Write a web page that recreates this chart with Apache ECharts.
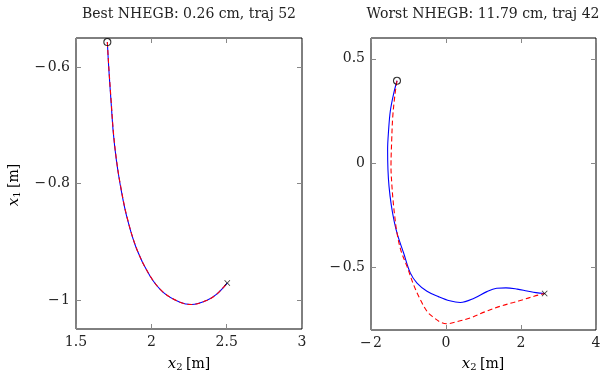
<!DOCTYPE html>
<html>
<head>
<meta charset="utf-8">
<script src="https://cdn.jsdelivr.net/npm/echarts@6/dist/echarts.min.js"></script>
<style>html,body{margin:0;padding:0;background:#fff}#c{width:609px;height:378px}</style>
</head>
<body>
<div id="c"></div>
<script>
// ---- Data ----
var titles = ['Best NHEGB: 0.26 cm, traj 52', 'Worst NHEGB: 11.79 cm, traj 42'];
// Left (best) trajectory: [x2, x1]
var bestRef = [[1.708,-0.557],[1.717,-0.600],[1.732,-0.657],[1.748,-0.714],[1.768,-0.760],[1.792,-0.800],[1.836,-0.856],[1.903,-0.913],[1.991,-0.959],[2.079,-0.987],[2.190,-1.004],[2.268,-1.008],[2.367,-1.001],[2.434,-0.990],[2.504,-0.971]];
var bestEst = [[1.708,-0.557],[1.718,-0.601],[1.733,-0.657],[1.749,-0.714],[1.769,-0.760],[1.793,-0.800],[1.837,-0.856],[1.904,-0.913],[1.992,-0.959],[2.080,-0.987],[2.190,-1.004],[2.268,-1.008],[2.367,-1.001],[2.434,-0.990],[2.504,-0.971]];
// Right (worst) trajectory
var worstRef = [[-1.307,0.395],[-1.400,0.330],[-1.485,0.250],[-1.530,0.160],[-1.557,0.064],[-1.548,-0.030],[-1.520,-0.110],[-1.460,-0.200],[-1.380,-0.280],[-1.290,-0.345],[-1.130,-0.431],[-0.952,-0.526],[-0.773,-0.575],[-0.507,-0.614],[-0.200,-0.640],[0.100,-0.660],[0.381,-0.668],[0.750,-0.648],[1.090,-0.616],[1.350,-0.600],[1.600,-0.598],[1.900,-0.604],[2.160,-0.613],[2.400,-0.621],[2.630,-0.625]];
var worstEst = [[-1.307,0.395],[-1.360,0.330],[-1.420,0.223],[-1.450,0.100],[-1.467,-0.016],[-1.445,-0.100],[-1.413,-0.176],[-1.370,-0.250],[-1.307,-0.335],[-1.200,-0.420],[-1.040,-0.495],[-0.860,-0.585],[-0.685,-0.654],[-0.500,-0.712],[-0.330,-0.740],[-0.150,-0.762],[0.008,-0.770],[0.300,-0.760],[0.648,-0.742],[1.050,-0.712],[1.448,-0.686],[1.800,-0.668],[2.070,-0.654],[2.350,-0.638],[2.630,-0.625]];
var bestStart = [1.708,-0.557], bestEnd = [2.504,-0.971];
var worstStart = [-1.307,0.395], worstEnd = [2.630,-0.625];
var xTicksL = [1.5, 2, 2.5, 3], yTicksL = [-1, -0.8, -0.6];
var xTicksR = [-2, 0, 2, 4], yTicksR = [-0.5, 0, 0.5];
var yRangeL = [-1.05, -0.55], yRangeR = [-0.8, 0.6];

var FONT = 'DejaVu Serif';
var FS = 14;
function fmt(v){ var s = String(Math.round(v*100)/100); return s.replace('-', '\u2212\u200A'); }
var grids = [
  {left:76, top:38, width:226, height:291, show:true, borderColor:'#000', borderWidth:1, backgroundColor:'transparent'},
  {left:371, top:38, width:225, height:292, show:true, borderColor:'#000', borderWidth:1, backgroundColor:'transparent'}
];
function baseAx(gi, pos, showLabel){
  return {type:'value', gridIndex:gi, position:pos,
    axisLine:{show:false, onZero:false}, splitLine:{show:false},
    axisTick:{show:true, inside:true, length:5, lineStyle:{color:'#888', width:1}},
    axisLabel:{show:showLabel, formatter:fmt, fontFamily:FONT, fontSize:FS, color:'#222', margin:6,
      showMinLabel:true, showMaxLabel:true}};
}
function xAx(gi, ticks, interval, pos, showLabel){
  var a = baseAx(gi, pos, showLabel);
  a.min = ticks[0]; a.max = ticks[ticks.length-1]; a.interval = interval;
  return a;
}
function yAx(gi, range, ticks, pos, showLabel){
  var a = baseAx(gi, pos, showLabel);
  a.min = range[0]; a.max = range[1];
  a.axisTick.customValues = ticks;
  a.axisLabel.customValues = ticks;
  return a;
}
var xAxes = [
  xAx(0, xTicksL, 0.5, 'bottom', true),
  xAx(0, xTicksL, 0.5, 'top', false),
  xAx(1, xTicksR, 2, 'bottom', true),
  xAx(1, xTicksR, 2, 'top', false)
];
var yAxes = [
  yAx(0, yRangeL, yTicksL, 'left', true),
  yAx(0, yRangeL, yTicksL, 'right', false),
  yAx(1, yRangeR, yTicksR, 'left', true),
  yAx(1, yRangeR, yTicksR, 'right', false)
];

var crossPath = 'path://M0,1L1,0L5,4L9,0L10,1L6,5L10,9L9,10L5,6L1,10L0,9L4,5Z';
function lineSeries(data, xi, yi, color, dashed){
  return {type:'line', xAxisIndex:xi, yAxisIndex:yi, data:data, smooth:0.35, showSymbol:false, symbol:'none',
    lineStyle:{color:color, width:1.1, type: dashed ? [5,3] : 'solid'}, animation:false, silent:true};
}
function markers(start, end, xi, yi){
  return [
    {type:'scatter', xAxisIndex:xi, yAxisIndex:yi, data:[start], symbol:'circle', symbolSize:7,
      itemStyle:{color:'rgba(255,255,255,0)', borderColor:'#000', borderWidth:1.1}, animation:false, silent:true, z:5},
    {type:'scatter', xAxisIndex:xi, yAxisIndex:yi, data:[end], symbol:crossPath, symbolSize:6,
      itemStyle:{color:'#000'}, animation:false, silent:true, z:5}
  ];
}
var series = [
  lineSeries(bestRef, 0, 0, '#0000ff', false),
  lineSeries(bestEst, 0, 0, '#ff0000', true),
  lineSeries(worstRef, 2, 2, '#0000ff', false),
  lineSeries(worstEst, 2, 2, '#ff0000', true)
].concat(markers(bestStart, bestEnd, 0, 0)).concat(markers(worstStart, worstEnd, 2, 2));

var rich = { i:{fontFamily:FONT, fontStyle:'italic', fontSize:15, color:'#222'},
             s:{fontFamily:FONT, fontSize:10, color:'#222', verticalAlign:'bottom', padding:[6,0,0,0]},
             n:{fontFamily:FONT, fontSize:FS, color:'#222'} };
var chart = echarts.init(document.getElementById('c'), null, {renderer:'canvas'});
chart.setOption({
  backgroundColor:'#fff',
  animation:false,
  grid:grids,
  xAxis:xAxes,
  yAxis:yAxes,
  series:series,
  graphic:[
    {type:'text', style:{text:titles[0], font:FS+'px "'+FONT+'"', fill:'#222', textAlign:'center', textVerticalAlign:'middle', x:189, y:14}},
    {type:'text', style:{text:titles[1], font:FS+'px "'+FONT+'"', fill:'#222', textAlign:'center', textVerticalAlign:'middle', x:483, y:14}},
    {type:'text', style:{text:'{i|x}{s|2} {n|[m]}', rich:rich, textAlign:'center', textVerticalAlign:'middle', x:189, y:364}},
    {type:'text', style:{text:'{i|x}{s|2} {n|[m]}', rich:rich, textAlign:'center', textVerticalAlign:'middle', x:483, y:364}},
    {type:'text', x:14, y:185, rotation:Math.PI/2, style:{text:'{i|x}{s|1} {n|[m]}', rich:rich, textAlign:'center', textVerticalAlign:'middle'}}
  ]
});
</script>
</body>
</html>
